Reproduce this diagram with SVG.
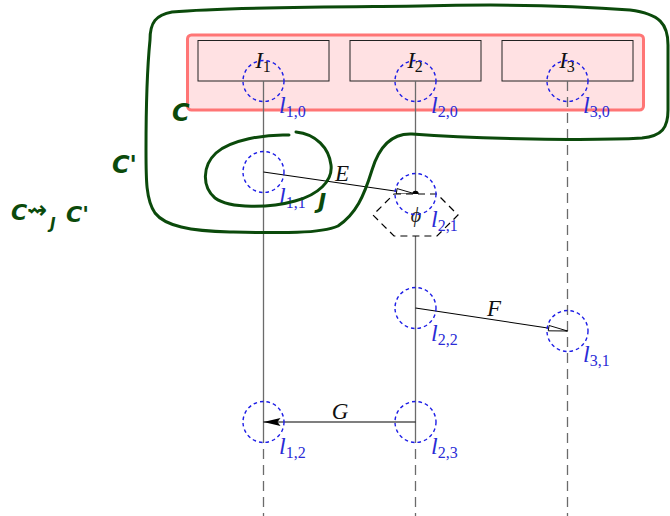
<svg xmlns="http://www.w3.org/2000/svg" width="670" height="516" viewBox="0 0 670 516">
  <defs>
    <!-- hollow narrow head for asynchronous messages -->
    <marker id="openHead" markerUnits="userSpaceOnUse" markerWidth="22" markerHeight="10" refX="19" refY="4" orient="auto" overflow="visible">
      <path d="M0,1.3 L19,4 L0,6.7 Z" fill="#fff" stroke="#000" stroke-width="0.9"/>
    </marker>
    <!-- filled head for synchronous messages -->
    <marker id="solidHead" markerUnits="userSpaceOnUse" markerWidth="20" markerHeight="10" refX="17" refY="4" orient="auto" overflow="visible">
      <path d="M0,0 L17,4 L0,8 L3,4 Z" fill="#000"/>
    </marker>
  </defs>
  <style>
    .frame{fill:#ffe1e3;stroke:#ff7575;stroke-width:3}
    .box{fill:none;stroke:#222;stroke-width:1}
    .life{stroke:#6b6b6b;stroke-width:1.3;fill:none}
    .dash{stroke-dasharray:10 6}
    .loc{fill:none;stroke:#1e1ee6;stroke-width:1.4;stroke-dasharray:3.6 3}
    .lbl{font-family:"Liberation Serif",serif;font-style:italic;font-size:24px;fill:#2b2bd6}
    .sub{font-size:16px;font-style:normal}
    .msg{stroke:#000;stroke-width:1.1;fill:none}
    .tx{font-family:"Liberation Serif",serif;font-style:italic;font-size:23px;fill:#111}
    .ink{fill:none;stroke:#0b4a0b;stroke-width:3;stroke-linecap:round;stroke-linejoin:round}
    .hand{font-family:"DejaVu Sans",sans-serif;font-style:oblique;font-weight:bold;fill:#0b4a0b}
  </style>

  <!-- shared background frame of the instances -->
  <rect class="frame" x="187.5" y="35" width="456" height="75" rx="4"/>

  <!-- instances with their lifelines -->
  <g id="I1">
    <rect class="box" x="198" y="40.5" width="131" height="40.5"/>
    <text class="tx" x="263" y="68" text-anchor="middle">I<tspan class="sub" dy="4">1</tspan></text>
    <line class="life" x1="263.5" y1="81" x2="263.5" y2="433"/>
    <line class="life dash" x1="263.5" y1="433" x2="263.5" y2="516"/>
  </g>
  <g id="I2">
    <rect class="box" x="350" y="40.5" width="131" height="40.5"/>
    <text class="tx" x="415" y="68" text-anchor="middle">I<tspan class="sub" dy="4">2</tspan></text>
    <line class="life" x1="415.5" y1="81" x2="415.5" y2="433"/>
    <line class="life dash" x1="415.5" y1="433" x2="415.5" y2="516"/>
  </g>
  <g id="I3">
    <rect class="box" x="502" y="40.5" width="131" height="40.5"/>
    <text class="tx" x="567" y="68" text-anchor="middle">I<tspan class="sub" dy="4">3</tspan></text>
    <line class="life dash" x1="567.5" y1="81" x2="567.5" y2="516"/>
  </g>

  <!-- messages -->
  <g id="connectors">
    <circle cx="415.5" cy="194" r="3.2" fill="#000"/>
    <line class="msg" x1="263.5" y1="172" x2="415.5" y2="194" marker-end="url(#openHead)"/>
    <text class="tx" x="342" y="181" text-anchor="middle">E</text>
    <line class="msg" x1="415.5" y1="308" x2="567.5" y2="331" marker-end="url(#openHead)"/>
    <text class="tx" x="494" y="316" text-anchor="middle">F</text>
    <line class="msg" x1="415.5" y1="422" x2="263.5" y2="422" marker-end="url(#solidHead)"/>
    <text class="tx" x="340" y="419" text-anchor="middle">G</text>
  </g>

  <!-- condition on the second instance -->
  <g id="cond">
    <polygon points="394,194 437,194 458,215 437,236 394,236 373,215" fill="#fff" stroke="#000" stroke-width="1.2" stroke-dasharray="7 5"/>
    <text x="416" y="222" text-anchor="middle" font-family="Liberation Serif, serif" font-style="italic" font-size="20" fill="#222">ϕ</text>
  </g>

  <!-- locations -->
  <g id="l10"><circle class="loc" cx="263.5" cy="81" r="20.5"/><text class="lbl" x="279" y="113">l<tspan class="sub" dy="4">1,0</tspan></text></g>
  <g id="l20"><circle class="loc" cx="415.5" cy="81" r="20.5"/><text class="lbl" x="431" y="113">l<tspan class="sub" dy="4">2,0</tspan></text></g>
  <g id="l30"><circle class="loc" cx="567.5" cy="81" r="20.5"/><text class="lbl" x="583" y="113">l<tspan class="sub" dy="4">3,0</tspan></text></g>
  <g id="l11"><circle class="loc" cx="263.5" cy="172" r="20.5"/><text class="lbl" x="279" y="204">l<tspan class="sub" dy="4">1,1</tspan></text></g>
  <g id="l21"><circle class="loc" cx="415.5" cy="194" r="20.5"/><text class="lbl" x="431" y="227">l<tspan class="sub" dy="4">2,1</tspan></text></g>
  <g id="l22"><circle class="loc" cx="415.5" cy="308" r="20.5"/><text class="lbl" x="431" y="341">l<tspan class="sub" dy="4">2,2</tspan></text></g>
  <g id="l31"><circle class="loc" cx="567.5" cy="331" r="20.5"/><text class="lbl" x="583" y="362">l<tspan class="sub" dy="4">3,1</tspan></text></g>
  <g id="l12"><circle class="loc" cx="263.5" cy="422" r="20.5"/><text class="lbl" x="279" y="454">l<tspan class="sub" dy="4">1,2</tspan></text></g>
  <g id="l23"><circle class="loc" cx="415.5" cy="422" r="20.5"/><text class="lbl" x="431" y="454">l<tspan class="sub" dy="4">2,3</tspan></text></g>

  <!-- hand-drawn annotations -->
  <g id="annotations">
    <path class="ink" d="M150,40 C150,22 156,15 172,12 C230,7 330,7 420,6 C500,4 580,6 630,10 C660,14 668,24 668,45 L668,110 C668,128 662,136 642,138 C590,141 480,139 412,134 C390,133 378,150 372,170 C364,196 356,214 338,226 C320,234 280,233 230,232 C190,231 165,226 155,213 C146,200 146,180 146,150 C146,110 147,70 150,40"/>
    <path class="ink" d="M289,135 C265,134 230,140 216,153 C202,166 202,187 215,198 C230,209 270,208 295,201 C318,195 333,181 331,165 C329,148 316,134 296,132"/>
    <text class="hand" x="172" y="121" font-size="24">C</text>
    <text class="hand" x="112" y="173" font-size="24">C'</text>
    <text class="hand" x="318" y="209" font-size="22">J</text>
    <text class="hand" x="11" y="220" font-size="22">C</text>
    <text class="hand" x="27" y="218" font-size="24">⇝</text>
    <text class="hand" x="50" y="229" font-size="15">J</text>
    <text class="hand" x="66" y="222" font-size="22">C'</text>
  </g>
</svg>
